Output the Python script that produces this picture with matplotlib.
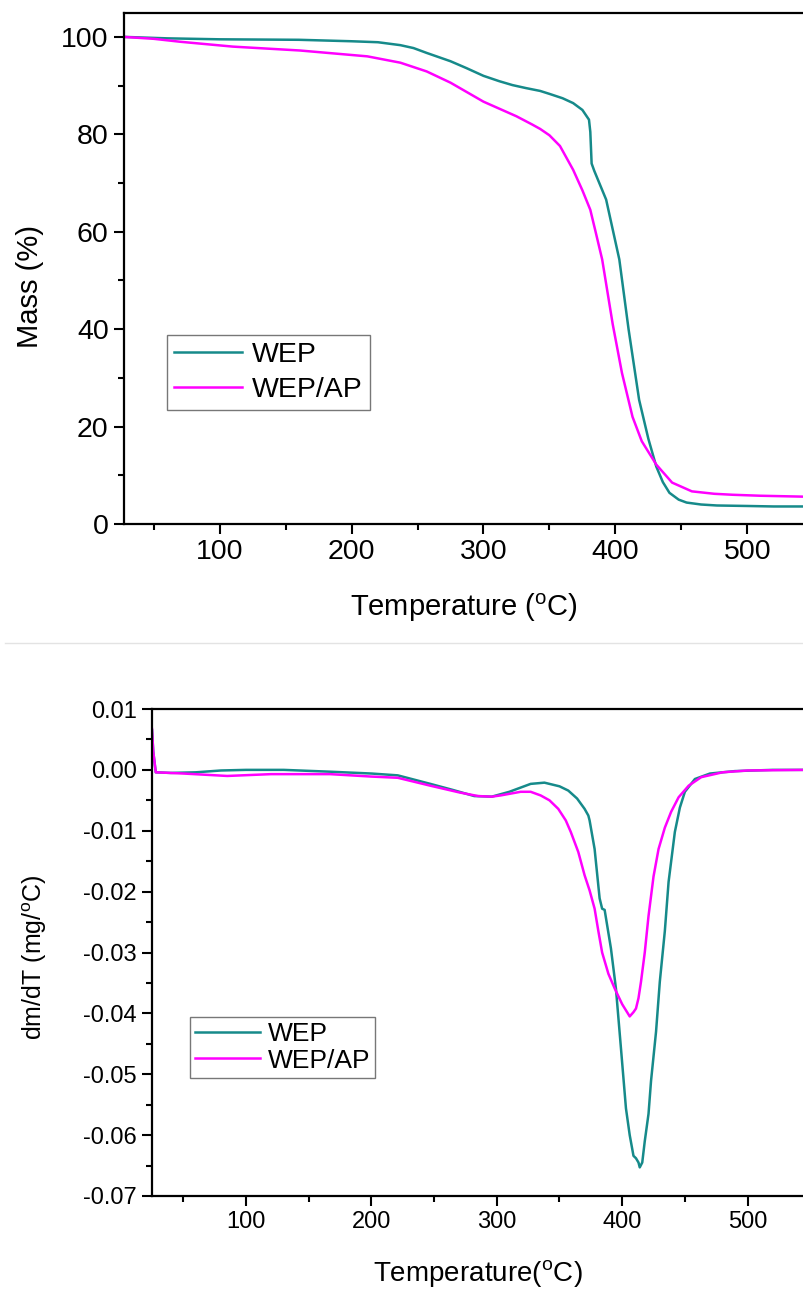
import numpy as np
import matplotlib.pyplot as plt
from matplotlib.ticker import MultipleLocator
from matplotlib.lines import Line2D

plt.rcParams['font.family'] = ['Liberation Sans', 'DejaVu Sans']
plt.rcParams['mathtext.fontset'] = 'custom'
plt.rcParams['mathtext.rm'] = 'Liberation Sans'

# TGA - mass (%) vs temperature
tga_wep_T = [27, 60, 100, 160, 200, 220, 237, 247, 257, 275, 287, 300, 312, 322, 332, 343, 350, 360,
             368, 375, 380, 381, 382, 384, 393, 403, 410, 418, 425, 431, 436, 441, 448,
             454, 465, 477, 500, 520, 545]
tga_wep_m = [100, 99.7, 99.5, 99.4, 99.1, 98.9, 98.3, 97.7, 96.7, 95.0, 93.6, 92.0, 90.9, 90.1, 89.5, 88.9, 88.3, 87.4,
             86.4, 85.0, 83.0, 80.5, 74.0, 72.5, 66.6, 54.3, 40.0, 25.5, 17.5, 11.8, 8.6, 6.4, 5.0,
             4.4, 4.0, 3.8, 3.7, 3.6, 3.6]
tga_ap_T = [27, 50, 70, 110, 161, 212, 237, 257, 275, 300, 325, 337, 343, 350, 358,
            368, 375, 381, 385, 390, 398, 405, 413, 420, 431, 443, 458, 475, 489, 510, 545]
tga_ap_m = [100, 99.6, 99.0, 98.0, 97.2, 96.0, 94.7, 92.9, 90.6, 86.7, 83.7, 82.0, 81.1, 79.8, 77.6,
            72.7, 68.5, 64.5, 60.0, 54.3, 41.0, 31.0, 22.0, 17.0, 12.2, 8.5, 6.7, 6.2, 6.0, 5.8, 5.6]

# DTG - dm/dT (mg/oC) vs temperature
dtg_wep_T = [25, 26, 28, 40, 60, 80, 100, 130, 167, 200, 221, 247, 265, 282, 296, 310, 327,
             338, 350, 357, 364, 370, 373, 374, 378, 382, 384, 386, 391, 395, 399, 403, 406,
             409, 411, 413, 414, 416, 418, 421, 423, 427, 430, 434, 437, 442, 446, 450, 458,
             470, 490, 520, 545]
dtg_wep_v = [0.0065, 0.003, -0.0004, -0.0005, -0.0004, -0.0001, 0.0, 0.0, -0.0003, -0.0006, -0.0009, -0.0023, -0.0033, -0.0043, -0.0044, -0.0036, -0.0023,
             -0.0021, -0.0027, -0.0034, -0.0047, -0.0064, -0.0075, -0.0083, -0.013, -0.0211, -0.0228, -0.023, -0.0293, -0.0359, -0.0457, -0.0556, -0.0600,
             -0.0634, -0.0638, -0.0645, -0.0653, -0.0645, -0.061, -0.0565, -0.0511, -0.043, -0.0348, -0.0265, -0.0184, -0.0102, -0.0062, -0.0036, -0.0015,
             -0.0006, -0.0002, 0.0, 0.0]
dtg_ap_T = [25, 26, 28, 50, 85, 120, 167, 200, 221, 247, 270, 285, 296, 303, 319, 327, 335,
            342, 349, 355, 359, 365, 370, 374, 378, 381, 384, 389, 394, 400, 406, 409, 411, 413, 415,
            418, 421, 425, 429, 434, 439, 445, 453, 463, 480, 500, 545]
dtg_ap_v = [0.0067, 0.003, -0.0004, -0.0006, -0.001, -0.0007, -0.0007, -0.0011, -0.0013, -0.0026, -0.0037, -0.0043, -0.0044, -0.0042, -0.0036, -0.0036, -0.0042,
            -0.005, -0.0064, -0.0083, -0.0102, -0.0135, -0.0173, -0.0198, -0.0228, -0.0265, -0.0300, -0.0335, -0.0359, -0.0385, -0.0405, -0.0398, -0.0392, -0.0375, -0.0348,
            -0.030, -0.024, -0.0175, -0.013, -0.0095, -0.0069, -0.0045, -0.0026, -0.0012, -0.0004, -0.0001, 0.0]

teal = '#168a8a'
magenta = '#ff00ff'

fig = plt.figure(figsize=(8.04, 12.91), dpi=100)

def style_axes(ax, size):
    for side in ['left', 'bottom', 'top']:
        ax.spines[side].set_linewidth(1.6)
    ax.spines['right'].set_visible(False)
    ax.tick_params(which='major', direction='out', length=7.5, width=1.5, labelsize=size, top=False, right=False)
    ax.tick_params(which='minor', direction='out', length=4.5, width=1.5, top=False, right=False)

# top panel
ax1 = fig.add_axes([124 / 804, 767 / 1291, 680 / 804, 511 / 1291])
ax1.plot(tga_wep_T, tga_wep_m, color=teal, lw=1.8, label='WEP')
ax1.plot(tga_ap_T, tga_ap_m, color=magenta, lw=1.8, label='WEP/AP')
ax1.set_xlim(27.5, 543)
ax1.set_ylim(0, 104.9)
ax1.xaxis.set_major_locator(MultipleLocator(100))
ax1.xaxis.set_minor_locator(MultipleLocator(50))
ax1.yaxis.set_major_locator(MultipleLocator(20))
ax1.yaxis.set_minor_locator(MultipleLocator(10))
style_axes(ax1, 20.5)
ax1.set_xlabel(r'Temperature ($^{\mathregular{o}}$C)', fontsize=21)
ax1.set_ylabel('Mass (%)', fontsize=21)
ax1.xaxis.set_label_coords(0.5, -0.133)
ax1.yaxis.set_label_coords(-0.118, 0.465)
leg1 = ax1.legend(loc='upper left', bbox_to_anchor=(0.063, 0.37), borderaxespad=0, fontsize=20.5,
                  fancybox=False, edgecolor='#555555', handlelength=2.4, handletextpad=0.35,
                  borderpad=0.25, labelspacing=0.3)
leg1.get_frame().set_linewidth(1.0)

# separator line between the two images
fig.add_artist(Line2D([5 / 804, 1.0], [1 - 643 / 1291, 1 - 643 / 1291], color='#e3e3e3', lw=1))

# bottom panel
ax2 = fig.add_axes([152 / 804, 95 / 1291, 652 / 804, 487 / 1291])
ax2.plot(dtg_wep_T, dtg_wep_v, color=teal, lw=1.8, label='WEP')
ax2.plot(dtg_ap_T, dtg_ap_v, color=magenta, lw=1.8, label='WEP/AP')
ax2.set_xlim(25, 545)
ax2.set_ylim(-0.07, 0.01)
ax2.xaxis.set_major_locator(MultipleLocator(100))
ax2.xaxis.set_minor_locator(MultipleLocator(50))
ax2.yaxis.set_major_locator(MultipleLocator(0.01))
ax2.yaxis.set_minor_locator(MultipleLocator(0.005))
ax2.yaxis.set_major_formatter(plt.FuncFormatter(lambda v, p: '%.2f' % v if abs(v) > 1e-9 else '0.00'))
style_axes(ax2, 17)
ax2.set_xlabel(r'Temperature($^{\mathregular{o}}$C)', fontsize=20)
ax2.set_ylabel(r'dm/dT (mg/$^{\mathregular{o}}$C)', fontsize=18)
ax2.xaxis.set_label_coords(0.5, -0.128)
ax2.yaxis.set_label_coords(-0.158, 0.49)
leg2 = ax2.legend(loc='upper left', bbox_to_anchor=(0.058, 0.368), borderaxespad=0, fontsize=19,
                  fancybox=False, edgecolor='#555555', handlelength=2.45, handletextpad=0.3,
                  borderpad=0.2, labelspacing=0.1)
leg2.get_frame().set_linewidth(1.0)

fig.savefig('out.png', dpi=100)
